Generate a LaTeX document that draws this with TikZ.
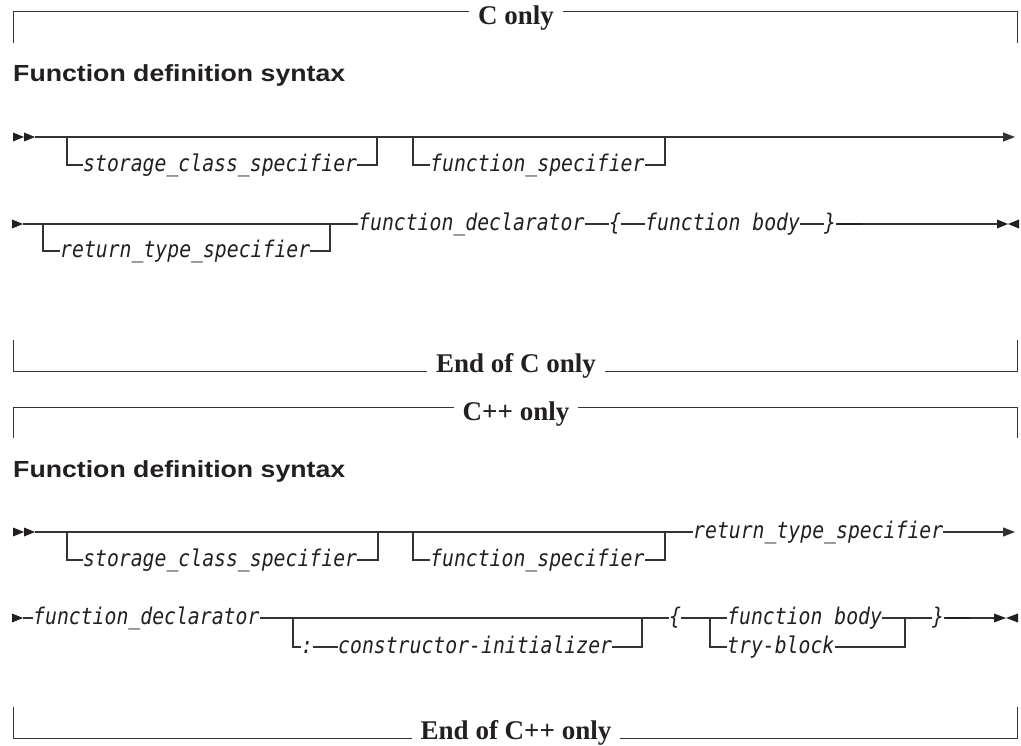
\documentclass[tikz,border=0pt]{standalone}
\usepackage{fontspec}
\setmainfont{Liberation Serif}
\newfontfamily\titlefont[FakeStretch=1.145]{Liberation Sans}
\newfontfamily\synfont[FakeStretch=0.86]{DejaVu Sans Mono}
\usetikzlibrary{arrows.meta}
\definecolor{ink}{HTML}{231F20}
\definecolor{rule}{HTML}{333333}
\def\mo{6.3pt}
\tikzset{
  ln/.style={draw=rule, line width=1.2pt},
  fr/.style={draw=rule, line width=1pt},
  thick seg/.style={draw=ink, line width=2pt},
  endarrow/.style={-{Triangle[length=12pt,width=9pt]}},
  syn/.style={inner sep=0pt, anchor=base west, yshift=-\mo, text=ink,
    font=\fontsize{23}{26}\selectfont\synfont\itshape},
  frametext/.style={inner xsep=9pt, inner ysep=0pt, anchor=base, text=ink,
    font=\fontsize{27}{30}\selectfont\bfseries},
  heading/.style={inner sep=0pt, anchor=base west, text=ink,
    font=\fontsize{23.3}{26}\selectfont\titlefont\bfseries},
}
\begin{document}
\begin{tikzpicture}[x=1pt,y=-1pt]
\useasboundingbox (0,0) rectangle (1021,746);

% ================= C only =================
\node[frametext] (ctop) at (516,25) {C only};
\coordinate (ctl) at (13,12);
\coordinate (ctr) at (1017,12);
\draw[fr] (13,43) -- (ctl) -- (ctl -| ctop.west);
\draw[fr] (ctop.east |- ctr) -- (ctr) -- (1017,43);

\node[heading] (ctitle) at (13,82) {Function definition syntax};

% row 1
\coordinate (c1s) at (35,137);
\coordinate (c1e) at (1015,137);
\fill[ink] (13,132.5) -- (24,137) -- (13,141.5) -- cycle;
\fill[ink] (24,132.5) -- (35,137) -- (24,141.5) -- cycle;
\draw[ln,endarrow] (c1s) -- (c1e);
\node[syn] (cscs) at (83,165) {storage\_class\_specifier};
\draw[ln] (67,137) |- ([yshift=\mo]cscs.base west);
\draw[ln] ([yshift=\mo]cscs.base east) -| (377,137);
\node[syn] (cfs) at (430,165) {function\_specifier};
\draw[ln] (413,137) |- ([yshift=\mo]cfs.base west);
\draw[ln] ([yshift=\mo]cfs.base east) -| (665,137);

% row 2
\coordinate (c2s) at (23,224);
\fill[ink] (12,219.5) -- (23,224) -- (12,228.5) -- cycle;
\node[syn] (crts) at (60,251) {return\_type\_specifier};
\node[syn] (cfd) at (358,224) {function\_declarator};
\draw[ln] (c2s) -- ([yshift=\mo]cfd.base west);
\draw[ln] (43,224) |- ([yshift=\mo]crts.base west);
\draw[ln] ([yshift=\mo]crts.base east) -| (330,224);
\node[syn] (clb) at (609,224) {\{};
\node[syn] (cfb) at (645,224) {function body};
\node[syn] (crb) at (824,224) {\}};
\draw[ln] ([yshift=\mo]cfd.base east) -- ([yshift=\mo]clb.base west);
\draw[ln] ([yshift=\mo]clb.base east) -- ([yshift=\mo]cfb.base west);
\draw[ln] ([yshift=\mo]cfb.base east) -- ([yshift=\mo]crb.base west);
\coordinate (c2e) at (997,224);
\draw[ln] ([yshift=\mo]crb.base east) -- (c2e);
\draw[thick seg] ([yshift=\mo,xshift=2pt]crb.base east) -- (862,224);
\fill[ink] (997,219.5) -- (1008,224) -- (997,228.5) -- cycle;
\fill[ink] (1019,219.5) -- (1008,224) -- (1019,228.5) -- cycle;

% end of C only
\node[frametext] (cend) at (516,372) {End of C only};
\coordinate (cbl) at (13,371);
\coordinate (cbr) at (1017,371);
\draw[fr] (13,340) -- (cbl) -- (cbl -| cend.west);
\draw[fr] (cend.east |- cbr) -- (cbr) -- (1017,340);

% ================= C++ only =================
\node[frametext] (ptop) at (516,420) {C++ only};
\coordinate (ptl) at (13,407);
\coordinate (ptr) at (1017,407);
\draw[fr] (13,438) -- (ptl) -- (ptl -| ptop.west);
\draw[fr] (ptop.east |- ptr) -- (ptr) -- (1017,438);

\node[heading] (ptitle) at (13,477) {Function definition syntax};

% row 1
\coordinate (p1s) at (35,532);
\coordinate (p1e) at (1015,532);
\fill[ink] (13,527.5) -- (24,532) -- (13,536.5) -- cycle;
\fill[ink] (24,527.5) -- (35,532) -- (24,536.5) -- cycle;
\node[syn] (prts) at (693,532) {return\_type\_specifier};
\draw[ln] (p1s) -- ([yshift=\mo]prts.base west);
\draw[ln,endarrow] ([yshift=\mo]prts.base east) -- (p1e);
\node[syn] (pscs) at (83,560) {storage\_class\_specifier};
\draw[ln] (67,532) |- ([yshift=\mo]pscs.base west);
\draw[ln] ([yshift=\mo]pscs.base east) -| (378,532);
\node[syn] (pfs) at (430,560) {function\_specifier};
\draw[ln] (413,532) |- ([yshift=\mo]pfs.base west);
\draw[ln] ([yshift=\mo]pfs.base east) -| (665,532);

% row 2
\coordinate (p2s) at (23,618);
\fill[ink] (12,613.5) -- (23,618) -- (12,622.5) -- cycle;
\node[syn] (pfd) at (33,618) {function\_declarator};
\draw[ln] (p2s) -- ([yshift=\mo]pfd.base west);
\node[syn] (pcol) at (301,647) {:};
\node[syn] (pci) at (338,647) {constructor-initializer};
\draw[ln] (293,618) |- ([yshift=\mo]pcol.base west);
\draw[ln] ([yshift=\mo]pcol.base east) -- ([yshift=\mo]pci.base west);
\draw[ln] ([yshift=\mo]pci.base east) -| (642,618);
\node[syn] (plb) at (669,618) {\{};
\draw[ln] ([yshift=\mo]pfd.base east) -- ([yshift=\mo]plb.base west);
\node[syn] (pfb) at (727,618) {function body};
\node[syn] (ptb) at (727,647) {try-block};
\draw[ln] ([yshift=\mo]plb.base east) -- ([yshift=\mo]pfb.base west);
\draw[ln] (710,618) |- ([yshift=\mo]ptb.base west);
\draw[ln] ([yshift=\mo]pfb.base east) -- (905,618);
\draw[ln] ([yshift=\mo]ptb.base east) -| (905,618);
\node[syn] (prb) at (932,618) {\}};
\draw[ln] (905,618) -- ([yshift=\mo]prb.base west);
\coordinate (p2e) at (994,618);
\draw[ln] ([yshift=\mo]prb.base east) -- (p2e);
\draw[thick seg] ([yshift=\mo,xshift=2pt]prb.base east) -- (970,618);
\fill[ink] (994,613.5) -- (1006,618) -- (994,622.5) -- cycle;
\fill[ink] (1018,613.5) -- (1006,618) -- (1018,622.5) -- cycle;

% end of C++ only
\node[frametext] (pend) at (516,739) {End of C++ only};
\coordinate (pbl) at (13,738);
\coordinate (pbr) at (1017,738);
\draw[fr] (13,707) -- (pbl) -- (pbl -| pend.west);
\draw[fr] (pend.east |- pbr) -- (pbr) -- (1017,707);
\end{tikzpicture}
\end{document}
